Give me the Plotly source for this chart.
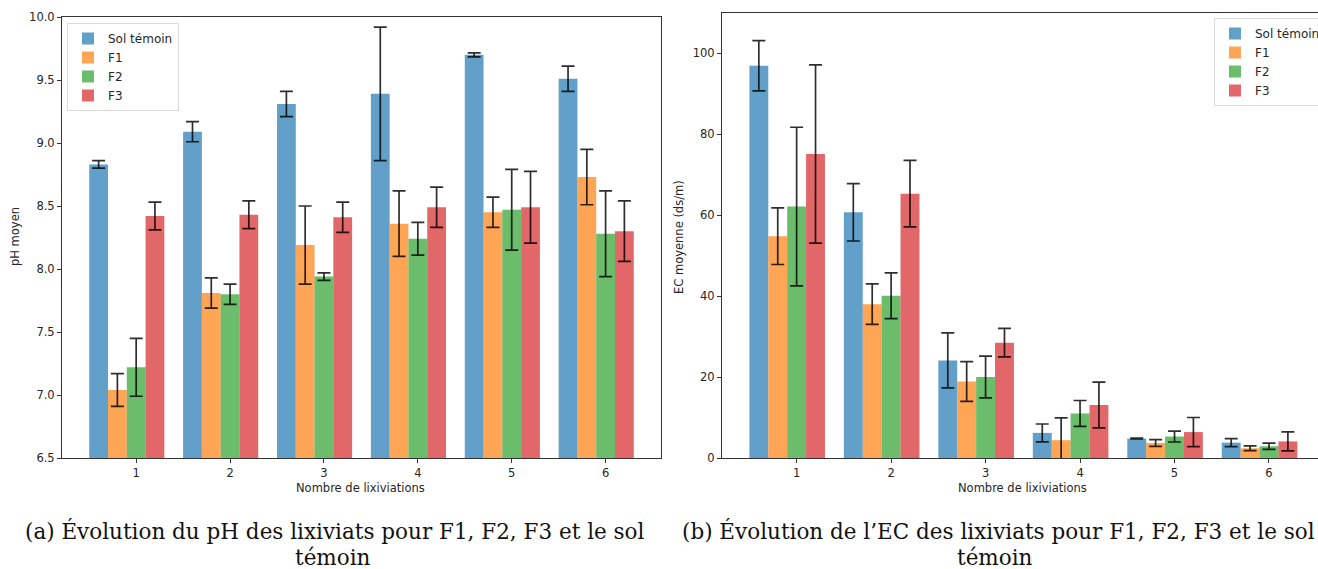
import plotly.graph_objects as go
import numpy as np

# ---------------- data ----------------
lixiviations = [1, 2, 3, 4, 5, 6]
series_names = ["Sol témoin", "F1", "F2", "F3"]

ph_temoin = [8.83, 9.09, 9.31, 9.39, 9.70, 9.51]
ph_f1 = [7.04, 7.81, 8.19, 8.36, 8.45, 8.73]
ph_f2 = [7.22, 7.80, 7.94, 8.24, 8.47, 8.28]
ph_f3 = [8.42, 8.43, 8.41, 8.49, 8.49, 8.30]

ph_temoin_err = [0.03, 0.08, 0.10, 0.53, 0.016, 0.10]
ph_f1_err = [0.13, 0.12, 0.31, 0.26, 0.12, 0.22]
ph_f2_err = [0.23, 0.08, 0.03, 0.13, 0.32, 0.34]
ph_f3_err = [0.11, 0.11, 0.12, 0.16, 0.285, 0.24]

ec_temoin = [96.9, 60.7, 24.1, 6.2, 4.8, 3.8]
ec_f1 = [54.8, 38.0, 18.9, 4.4, 3.7, 2.4]
ec_f2 = [62.1, 40.1, 20.0, 11.0, 5.3, 2.9]
ec_f3 = [75.1, 65.3, 28.5, 13.1, 6.4, 4.1]

ec_temoin_err = [6.2, 7.1, 6.8, 2.2, 0.1, 1.0]
ec_f1_err = [7.0, 5.0, 4.9, 5.5, 0.85, 0.6]
ec_f2_err = [19.6, 5.65, 5.15, 3.2, 1.35, 0.75]
ec_f3_err = [22.0, 8.2, 3.5, 5.65, 3.6, 2.35]

ph_ticks = [6.5, 7.0, 7.5, 8.0, 8.5, 9.0, 9.5, 10.0]
ec_ticks = [0, 20, 40, 60, 80, 100]

# ---------------- style ----------------
W, H = 1318, 569
colors = ["rgba(31,119,180,0.7)", "rgba(255,127,14,0.7)",
          "rgba(44,160,44,0.7)", "rgba(214,39,40,0.7)"]
bar_w = 0.2
offsets = [-0.4, -0.2, 0.0, 0.2]
axis_col = "#333333"
tick_font = dict(family="DejaVu Sans", size=11.5, color="#262626")
err_style = dict(type="data", visible=True, color="rgba(0,0,0,0.82)",
                 thickness=1.7, width=6.5)

def px_x(p):
    return p / W

def px_y(p):
    return 1 - p / H

fig = go.Figure()

ph_vals = [ph_temoin, ph_f1, ph_f2, ph_f3]
ph_errs = [ph_temoin_err, ph_f1_err, ph_f2_err, ph_f3_err]
ec_vals = [ec_temoin, ec_f1, ec_f2, ec_f3]
ec_errs = [ec_temoin_err, ec_f1_err, ec_f2_err, ec_f3_err]

for i, name in enumerate(series_names):
    xs = np.array(lixiviations) + offsets[i]
    fig.add_trace(go.Bar(
        x=xs, y=ph_vals[i], width=bar_w, name=name,
        marker=dict(color=colors[i], line=dict(width=0)),
        error_y=dict(array=ph_errs[i], **err_style),
        xaxis="x", yaxis="y", legend="legend", showlegend=True,
    ))
for i, name in enumerate(series_names):
    xs = np.array(lixiviations) + offsets[i]
    fig.add_trace(go.Bar(
        x=xs, y=ec_vals[i], width=bar_w, name=name,
        marker=dict(color=colors[i], line=dict(width=0)),
        error_y=dict(array=ec_errs[i], **err_style),
        xaxis="x2", yaxis="y2", legend="legend2", showlegend=True,
    ))

common_x = dict(tickvals=lixiviations, ticktext=[str(v) for v in lixiviations],
                ticks="outside", ticklen=4, tickcolor=axis_col, tickwidth=1,
                showline=True, linecolor=axis_col, linewidth=1, mirror=True,
                showgrid=False, zeroline=False, tickfont=tick_font)
common_y = dict(ticks="outside", ticklen=4, tickcolor=axis_col, tickwidth=1,
                showline=True, linecolor=axis_col, linewidth=1,
                showgrid=False, zeroline=False, tickfont=tick_font)

x1_dom = [px_x(62), px_x(661)]
x2_dom = [px_x(722), 1.0]
y1_dom = [px_y(458), px_y(17)]
y2_dom = [px_y(458), px_y(12.7)]

# x2 range ends at the paper edge (figure is cropped on the right)
px_per_unit = (1269 - 796.7) / 5
x2_max = 1 + (W - 796.7) / px_per_unit

leg_font = dict(family="DejaVu Sans", size=12, color="#262626")
fig.update_layout(
    width=W, height=H,
    margin=dict(l=0, r=0, t=0, b=0, pad=0, autoexpand=False),
    paper_bgcolor="white", plot_bgcolor="white",
    barmode="overlay",
    xaxis=dict(domain=x1_dom, range=[0.21, 6.59], anchor="y", **common_x),
    yaxis=dict(domain=y1_dom, range=[6.5, 10.0], anchor="x", tickvals=ph_ticks,
               tickformat=".1f", mirror=True, **common_y),
    xaxis2=dict(domain=x2_dom, range=[0.21, x2_max], anchor="y2", **common_x),
    yaxis2=dict(domain=y2_dom, range=[0, 110], anchor="x2", tickvals=ec_ticks,
                mirror=False, **common_y),
    legend=dict(x=px_x(67), y=px_y(23), xanchor="left", yanchor="top",
                bgcolor="rgba(255,255,255,0.85)", bordercolor="#d9d9d9", borderwidth=1,
                font=leg_font, tracegroupgap=0),
    legend2=dict(x=px_x(1214), y=px_y(18), xanchor="left", yanchor="top",
                 bgcolor="rgba(255,255,255,0.85)", bordercolor="#d9d9d9", borderwidth=1,
                 font=leg_font, tracegroupgap=0),
    showlegend=True,
)

lab_font = dict(family="DejaVu Sans", size=11.5, color="#262626")
cap_font = dict(family="DejaVu Serif", size=21.5, color="#111111")
annots = [
    dict(text="pH moyen", x=px_x(15), y=px_y(237), textangle=-90, font=lab_font),
    dict(text="Nombre de lixiviations", x=px_x(361), y=px_y(488), font=lab_font),
    dict(text="EC moyenne (ds/m)", x=px_x(679), y=px_y(237), textangle=-90, font=lab_font),
    dict(text="Nombre de lixiviations", x=px_x(1022), y=px_y(488), font=lab_font),
    dict(text="(a) Évolution du pH des lixiviats pour F1, F2, F3 et le sol",
         x=px_x(335), y=px_y(531), font=cap_font),
    dict(text="témoin", x=px_x(333), y=px_y(557), font=cap_font),
    dict(text="(b) Évolution de l’EC des lixiviats pour F1, F2, F3 et le sol",
         x=px_x(680), y=px_y(531), xanchor="left", font=cap_font),
    dict(text="témoin", x=px_x(995), y=px_y(557), font=cap_font),
]
for a in annots:
    a.setdefault("xanchor", "center")
    fig.add_annotation(xref="paper", yref="paper", showarrow=False, yanchor="middle", **a)

fig.write_html("out.html")
